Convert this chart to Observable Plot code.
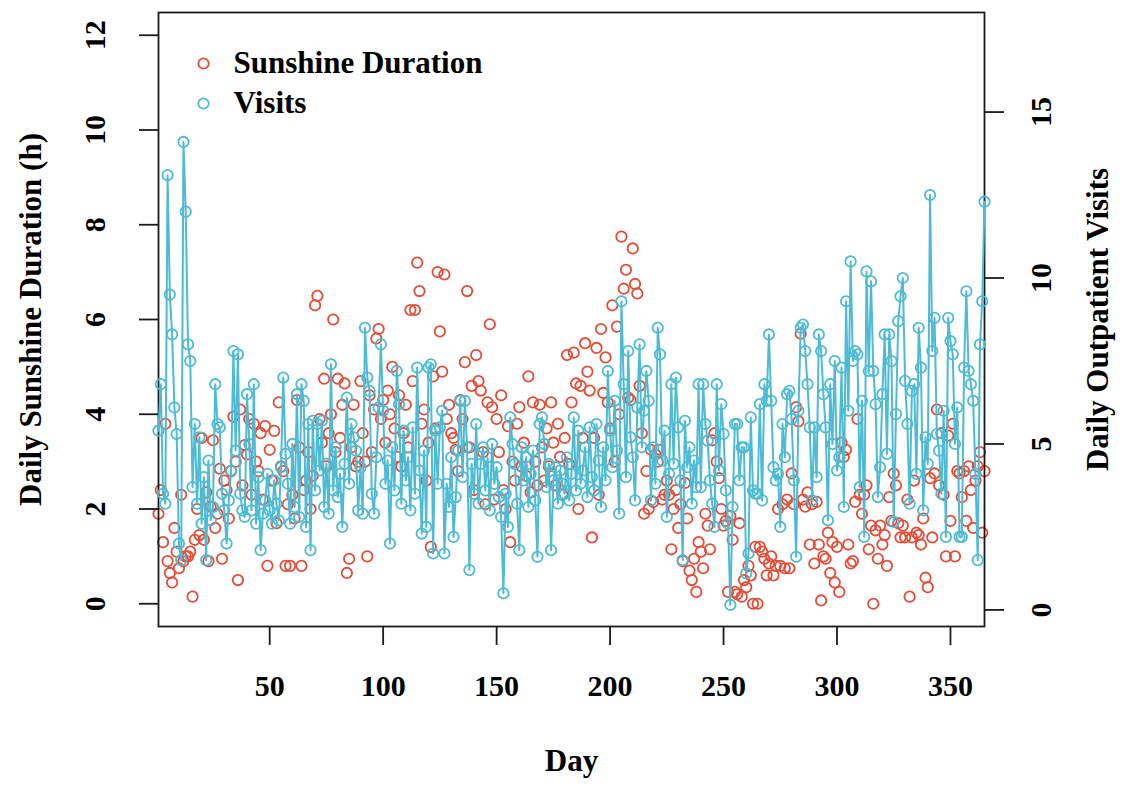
<!DOCTYPE html>
<html>
<head>
<meta charset="utf-8">
<script src="https://cdn.jsdelivr.net/npm/d3@7"></script>
<script src="https://cdn.jsdelivr.net/npm/@observablehq/plot@0.6"></script>
<style>
  body { margin: 0; background: #fff; }
  #chart { position: relative; width: 1127px; height: 785px; }
  #chart svg { position: absolute; left: 0; top: 0; }
</style>
</head>
<body>
<div id="chart"></div>
<script>
// Daily sunshine duration (hours), days 1–365
const sunshine = [
  1.9, 2.4, 1.3, 3.8, 0.9, 0.65, 0.45, 1.6, 1.1, 0.75,
  2.3, 0.9, 1.0, 1.0, 1.1, 0.15, 1.35, 2.0, 1.45, 3.5,
  1.35, 2.35, 0.9, 2.05, 3.45, 1.6, 1.9, 2.85, 0.95, 2.6,
  2.4, 1.8, 2.8, 3.95, 3.0, 0.5, 4.1, 2.5, 3.35, 3.15,
  3.9, 2.3, 3.8, 3.0, 2.8, 3.6, 2.2, 3.75, 0.8, 3.25,
  2.6, 3.65, 1.7, 4.25, 2.9, 2.8, 0.8, 2.1, 0.8, 2.3,
  1.8, 4.3, 3.3, 0.8, 2.4, 2.6, 3.2, 2.0, 2.7, 6.3,
  6.5, 3.9, 3.4, 4.75, 2.9, 3.6, 4.0, 6.0, 3.2, 4.75,
  3.5, 4.2, 4.65, 0.65, 0.95, 3.3, 4.2, 2.9, 3.0, 4.7,
  3.6, 3.0, 1.0, 4.4, 3.2, 4.1, 5.6, 5.8, 3.9, 4.3,
  3.4, 4.5, 4.0, 5.0, 3.7, 3.1, 4.4, 2.9, 3.6, 4.2,
  3.3, 6.2, 4.7, 6.2, 7.2, 6.6, 3.8, 4.1, 2.6, 3.4,
  1.2, 4.8, 3.7, 7.0, 5.75, 4.9, 6.95, 3.9, 4.2, 3.6,
  3.5, 3.25, 2.8, 4.3, 3.9, 5.1, 6.6, 3.3, 4.6, 2.4,
  5.25, 4.7, 4.5, 3.2, 2.1, 4.25, 5.9, 4.15, 2.2, 3.9,
  3.2, 4.4, 2.4, 2.0, 3.75, 1.3, 3.0, 2.6, 3.8, 4.15,
  2.9, 3.4, 2.7, 4.8, 2.35, 4.25, 3.0, 2.5, 4.2, 3.3,
  2.6, 3.7, 2.9, 4.25, 3.4, 2.5, 3.8, 3.1, 2.3, 3.5,
  5.25, 2.95, 4.25, 5.3, 4.65, 2.0, 4.6, 3.5, 5.5, 4.9,
  4.5, 1.4, 3.5, 5.4, 2.3, 5.8, 4.45, 5.2, 4.25, 3.7,
  6.3, 3.0, 5.85, 4.0, 7.75, 6.65, 7.05, 4.35, 4.3, 7.5,
  6.75, 6.55, 4.6, 3.6, 1.9, 2.8, 2.0, 3.25, 2.15, 3.15,
  3.0, 3.25, 2.2, 2.3, 2.6, 2.3, 1.15, 2.0, 2.4, 1.6,
  2.1, 0.9, 2.55, 1.8, 0.7, 0.5, 0.95, 0.25, 1.3, 1.1,
  0.75, 1.9, 1.65, 1.15, 3.45, 3.6, 3.0, 2.65, 2.0, 1.65,
  1.75, 0.25, 1.85, 1.35, 0.25, 0.2, 1.7, 0.15, 0.5, 0.35,
  0.8, 0.6, 0.0, 1.2, 0.0, 1.2, 1.1, 0.95, 0.6, 0.85,
  1.0, 0.6, 0.8, 2.0, 0.8, 2.1, 0.75, 2.2, 0.75, 2.75,
  2.1, 4.15, 3.85, 5.7, 2.2, 2.05, 2.35, 1.25, 2.1, 0.85,
  2.15, 1.25, 0.07, 1.0, 0.95, 1.5, 0.65, 1.3, 0.45, 1.2,
  0.25, 3.4, 3.1, 3.25, 1.25, 0.85, 0.9, 2.15, 3.9, 2.3,
  1.9, 2.3, 2.5, 1.15, 1.65, 0.0, 1.55, 0.95, 1.65, 1.25,
  1.45, 0.8, 2.25, 1.75, 2.75, 2.5, 1.7, 1.4, 1.65, 1.4,
  2.2, 0.15, 1.4, 2.6, 1.5, 1.45, 1.25, 1.8, 0.55, 0.35,
  2.65, 1.4, 2.75, 4.1, 2.5, 3.6, 2.3, 1.0, 3.55, 1.75,
  3.8, 1.0, 2.8, 2.75, 2.25, 2.8, 1.75, 2.9, 2.4, 1.6,
  2.6, 2.9, 3.2, 1.5, 2.8
];

// Daily outpatient visits, days 1–365
const visits = [
  5.4, 6.8, 3.5, 3.2, 13.1, 9.5, 8.3, 6.1, 5.3, 2.0,
  1.5, 14.1, 12.0, 8.0, 7.5, 3.7, 5.6, 3.2, 5.2, 2.6,
  4.0, 1.5, 4.5, 2.7, 3.1, 6.8, 5.6, 5.5, 3.5, 3.0,
  2.0, 3.3, 4.2, 7.8, 4.8, 7.7, 3.5, 3.0, 2.8, 6.5,
  5.0, 3.0, 6.8, 2.6, 4.0, 1.8, 2.9, 3.3, 4.1, 3.0,
  2.6, 3.9, 3.2, 2.7, 4.3, 7.0, 4.7, 3.8, 2.6, 5.0,
  3.1, 6.5, 2.8, 6.8, 6.3, 2.5, 5.6, 1.8, 5.7, 3.6,
  5.6, 4.2, 5.7, 3.1, 4.4, 2.9, 7.4, 3.6, 4.9, 3.4,
  4.1, 2.5, 4.4, 6.4, 3.8, 5.6, 5.2, 4.8, 3.0, 4.3,
  2.9, 8.5, 7.0, 6.6, 3.5, 2.9, 4.6, 6.1, 8.0, 6.0,
  3.8, 4.5, 2.0, 4.9, 3.6, 7.2, 6.2, 3.2, 5.4, 3.9,
  4.6, 3.0, 5.5, 3.5, 7.3, 4.2, 2.3, 4.8, 2.5, 7.3,
  7.4, 1.7, 5.4, 3.8, 5.5, 6.0, 1.7, 3.8, 3.1, 4.6,
  2.2, 3.4, 4.8, 6.3, 4.0, 6.3, 4.9, 1.2, 4.4, 3.5,
  5.6, 3.2, 4.4, 4.9, 3.6, 4.6, 3.0, 5.0, 3.8, 4.3,
  3.4, 2.8, 0.5, 3.5, 2.5, 5.8, 5.0, 4.4, 3.2, 1.8,
  4.9, 3.9, 4.6, 3.1, 4.1, 4.8, 3.3, 1.6, 5.6, 5.8,
  5.0, 3.7, 4.4, 1.8, 3.9, 4.3, 3.2, 4.2, 3.8, 3.5,
  4.6, 3.3, 4.1, 5.8, 3.6, 5.4, 3.8, 4.2, 4.9, 3.4,
  5.5, 4.0, 3.6, 5.6, 4.5, 3.1, 4.9, 3.9, 7.2, 5.4,
  4.3, 6.3, 4.8, 2.9, 9.3, 6.8, 4.0, 7.8, 5.2, 4.6,
  3.3, 6.1, 8.0, 4.9, 6.0, 7.2, 6.3, 3.3, 4.9, 3.8,
  8.5, 7.7, 4.5, 5.4, 2.8, 4.1, 6.8, 4.4, 7.0, 5.5,
  3.9, 1.5, 5.7, 4.3, 4.9, 3.2, 4.5, 3.7, 6.8, 3.7,
  6.8, 5.6, 5.1, 3.9, 3.2, 2.5, 6.8, 4.2, 6.2, 5.3,
  3.6, 2.6, 0.15, 3.1, 5.6, 5.6, 3.9, 4.9, 4.9, 1.1,
  1.7, 5.8, 3.6, 3.5, 3.5, 6.2, 3.3, 6.8, 6.3, 8.3,
  6.3, 4.3, 3.9, 4.1, 2.5, 5.6, 4.6, 6.5, 6.6, 5.75,
  3.9, 1.6, 6.0, 8.5, 8.6, 7.8, 6.8, 5.5, 3.3, 5.5,
  4.0, 8.3, 7.8, 6.5, 5.5, 2.7, 6.8, 5.0, 7.5, 4.2,
  4.6, 7.3, 3.1, 9.3, 6.0, 10.5, 7.5, 7.8, 7.7, 3.7,
  6.3, 2.2, 10.2, 7.2, 9.9, 7.2, 6.2, 3.4, 4.3, 6.5,
  8.3, 4.7, 8.3, 7.5, 2.65, 5.9, 8.7, 9.45, 10.0, 6.9,
  5.6, 3.2, 6.6, 6.8, 4.1, 8.5, 7.3, 3.0, 5.2, 4.4,
  12.5, 7.8, 8.8, 5.3, 4.8, 3.5, 6.0, 2.2, 8.8, 8.1,
  7.7, 5.0, 6.1, 2.2, 2.2, 7.3, 9.6, 7.2, 6.8, 6.3,
  4.1, 1.5, 8.0, 9.3, 12.3
];

const dayTicks = [50, 100, 150, 200, 250, 300, 350];
const sunshineTicks = [0, 2, 4, 6, 8, 10, 12];
const visitTicks = [0, 5, 10, 15];
const legendLabels = ["Sunshine Duration", "Visits"];

const red = "#E64B35";
const blue = "#4DBBD5";
const ink = "#1a1a1a";
const serif = "'Liberation Serif', 'Times New Roman', Times, serif";

const sunData = sunshine.map((value, i) => ({day: i + 1, value}));
const visitData = visits.map((value, i) => ({day: i + 1, value}));

// Shared layout so both panels line up exactly (left/right axes on one frame)
const layout = {
  width: 1127,
  height: 785,
  marginTop: 12,
  marginRight: 143,
  marginBottom: 159,
  marginLeft: 158,
  style: {
    fontFamily: serif,
    fontWeight: "bold",
    fontSize: "30px",
    color: "#000",
    background: "transparent",
    overflow: "visible"
  }
};

// Panel 1: sunshine points, frame, bottom and left axes, legend
const sunPlot = Plot.plot({
  ...layout,
  x: {domain: [1, 365]},
  y: {domain: [-0.48, 12.48]},
  marks: [
    Plot.dot(sunData, {x: "day", y: "value", r: 5.2, stroke: red, strokeWidth: 1.8}),
    Plot.frame({stroke: ink, strokeWidth: 1.8}),
    Plot.axisX(dayTicks, {
      tickSize: 19, tickPadding: 29, label: null,
      fontSize: 30, stroke: ink, strokeWidth: 1.8
    }),
    Plot.axisY(sunshineTicks, {
      anchor: "left", tickSize: 19, tickPadding: 44, tickRotate: -90,
      lineAnchor: "middle", label: null, fontSize: 30,
      stroke: ink, strokeWidth: 1.8
    }),
    Plot.text(["Day"], {
      frameAnchor: "bottom", dy: 144, lineAnchor: "bottom",
      fontSize: 31, fontWeight: "bold"
    }),
    Plot.text(["Daily Sunshine Duration (h)"], {
      frameAnchor: "left", dx: -127, rotate: -90,
      textAnchor: "middle", lineAnchor: "middle",
      fontSize: 31, fontWeight: "bold"
    }),
    // Legend
    Plot.dot([legendLabels[0]], {frameAnchor: "top-left", dx: 45, dy: 51, r: 5.2, stroke: red, strokeWidth: 1.8}),
    Plot.dot([legendLabels[1]], {frameAnchor: "top-left", dx: 45, dy: 91, r: 5.2, stroke: blue, strokeWidth: 1.8}),
    Plot.text([legendLabels[0]], {
      frameAnchor: "top-left", dx: 75, dy: 51, textAnchor: "start",
      lineAnchor: "middle", fontSize: 31, fontWeight: "bold"
    }),
    Plot.text([legendLabels[1]], {
      frameAnchor: "top-left", dx: 75, dy: 91, textAnchor: "start",
      lineAnchor: "middle", fontSize: 31, fontWeight: "bold"
    })
  ]
});

// Panel 2: visits line with points, right axis (shares the x scale, no x axis of its own)
const visitPlot = Plot.plot({
  ...layout,
  x: {domain: [1, 365], axis: null},
  y: {domain: [-0.5, 18.0], axis: null},
  marks: [
    Plot.line(visitData, {x: "day", y: "value", stroke: blue, strokeWidth: 2}),
    Plot.dot(visitData, {x: "day", y: "value", r: 5.2, stroke: blue, strokeWidth: 1.8}),
    Plot.axisY(visitTicks, {
      anchor: "right", tickSize: 19, tickPadding: 38, tickRotate: -90,
      lineAnchor: "middle", label: null, fontSize: 30,
      stroke: ink, strokeWidth: 1.8
    }),
    Plot.text(["Daily Outpatient Visits"], {
      frameAnchor: "right", dx: 114, rotate: -90,
      textAnchor: "middle", lineAnchor: "middle",
      fontSize: 31, fontWeight: "bold"
    })
  ]
});

const chart = document.getElementById("chart");
chart.append(sunPlot, visitPlot);
</script>
</body>
</html>
